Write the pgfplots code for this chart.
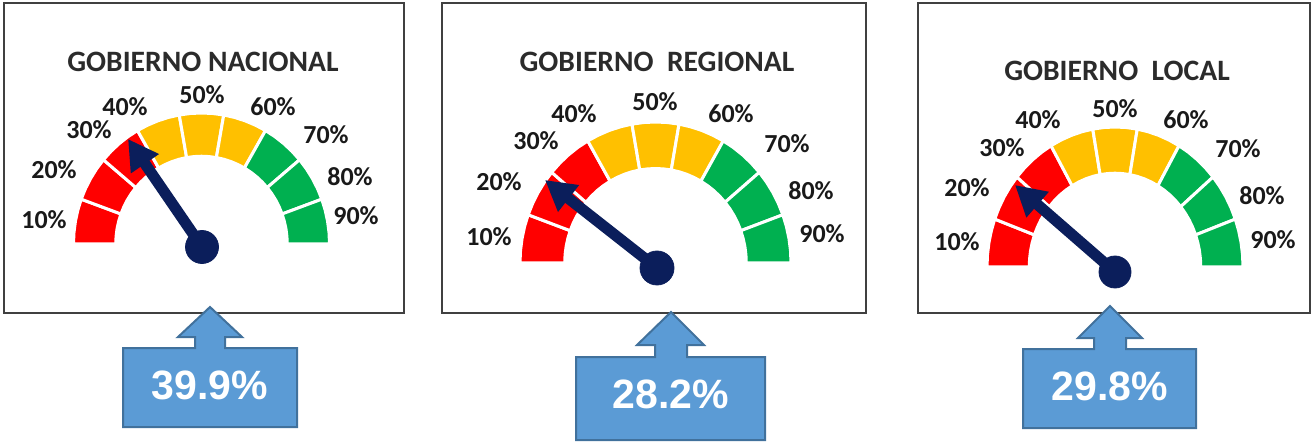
\documentclass[border=0pt]{standalone}
\usepackage{pgfplots}
\pgfplotsset{compat=1.18}
\usetikzlibrary{arrows.meta}
\usepackage{fontspec}
\setmainfont{Carlito}
\newfontfamily\arialf{Liberation Sans}
\definecolor{gred}{HTML}{FF0000}
\definecolor{gyel}{HTML}{FFC000}
\definecolor{ggrn}{HTML}{00B050}
\definecolor{navy}{HTML}{0B1E5B}
\definecolor{cfill}{HTML}{5B9BD5}
\definecolor{cedge}{HTML}{41719C}
\definecolor{ttl}{HTML}{2B2B2B}
\definecolor{frm}{HTML}{404040}
% one ring segment, angles in degrees (polar data)
\newcommand{\seg}[6]{\addplot[fill=#1, draw=white, line width=1.5pt, data cs=polar] coordinates {(#2,0.67)(#2,1)(#3,1)(#4,1)(#5,1)(#6,1)(#6,0.67)(#5,0.67)(#4,0.67)(#3,0.67)} -- cycle;}
\newcommand{\gaugering}{%
\seg{gred}{180}{175}{170}{165}{160}
\seg{gred}{160}{155}{150}{145}{140}
\seg{gred}{140}{135}{130}{125}{120}
\seg{gyel}{120}{115}{110}{105}{100}
\seg{gyel}{100}{95}{90}{85}{80}
\seg{gyel}{80}{75}{70}{65}{60}
\seg{ggrn}{60}{55}{50}{45}{40}
\seg{ggrn}{40}{35}{30}{25}{20}
\seg{ggrn}{20}{15}{10}{5}{0}
}
\pgfplotsset{
  pxaxis/.style={at={(0,0)}, anchor=north west, scale only axis, width=655.5pt, height=221pt,
    xmin=0, xmax=1311, ymin=0, ymax=442, y dir=reverse, hide axis, clip=false},
  gaxis/.style={anchor=origin, xmin=-1, xmax=1, ymin=0, ymax=1, hide axis, clip=false},
}
\tikzset{
  lbl/.style={font=\fontsize{13}{15}\selectfont\bfseries, text=black!90, inner sep=0pt},
  ttlnode/.style={font=\fontsize{14.8}{17}\selectfont\bfseries, text=ttl, inner sep=0pt},
  valnode/.style={font=\arialf\fontsize{20.5}{24}\selectfont\bfseries, text=white, inner sep=0pt},
}
\begin{document}
\begin{tikzpicture}
\path[use as bounding box] (0,0) rectangle (655.5pt,-221pt);
% ---------- frames, titles, labels, callouts ----------
\begin{axis}[pxaxis]
\addplot[draw=frm, line width=1pt] coordinates {(4,3)(404,3)(404,313)(4,313)} -- cycle;
\addplot[draw=frm, line width=1pt] coordinates {(442,3)(866,3)(866,313)(442,313)} -- cycle;
\addplot[draw=frm, line width=1pt] coordinates {(918,3)(1310,3)(1310,313)(918,313)} -- cycle;
% callouts
\addplot[fill=cfill, draw=cedge, line width=1pt] coordinates {(123,348)(195,348)(195,337)(178,337)(210,307)(242,337)(225,337)(225,348)(297,348)(297,427)(123,427)} -- cycle;
\addplot[fill=cfill, draw=cedge, line width=1pt] coordinates {(576,357)(655,357)(655,345)(637,345)(671,312)(704,345)(687,345)(687,357)(765,357)(765,440)(576,440)} -- cycle;
\addplot[fill=cfill, draw=cedge, line width=1pt] coordinates {(1023,349)(1094,349)(1094,338)(1078,338)(1110,306)(1142,338)(1126,338)(1126,349)(1196,349)(1196,428)(1023,428)} -- cycle;
\node[valnode] at (axis cs:210,385) {39.9\%};
\node[valnode] at (axis cs:671,394) {28.2\%};
\node[valnode] at (axis cs:1110,386) {29.8\%};
% titles
\node[ttlnode] at (axis cs:203,62) {GOBIERNO NACIONAL};
\node[ttlnode] at (axis cs:657,62) {GOBIERNO\ \ REGIONAL};
\node[ttlnode] at (axis cs:1117,71) {GOBIERNO\ \ LOCAL};
% gauge labels panel 1
\node[lbl] at (axis cs:44,220) {10\%};
\node[lbl] at (axis cs:54,170) {20\%};
\node[lbl] at (axis cs:89,130) {30\%};
\node[lbl] at (axis cs:125,107) {40\%};
\node[lbl] at (axis cs:202,95) {50\%};
\node[lbl] at (axis cs:273,107) {60\%};
\node[lbl] at (axis cs:326,135) {70\%};
\node[lbl] at (axis cs:350,177) {80\%};
\node[lbl] at (axis cs:356,216) {90\%};
% panel 2
\node[lbl] at (axis cs:489,237) {10\%};
\node[lbl] at (axis cs:499,182) {20\%};
\node[lbl] at (axis cs:536,141) {30\%};
\node[lbl] at (axis cs:574,114) {40\%};
\node[lbl] at (axis cs:655,102) {50\%};
\node[lbl] at (axis cs:731,114) {60\%};
\node[lbl] at (axis cs:787,144) {70\%};
\node[lbl] at (axis cs:811,191) {80\%};
\node[lbl] at (axis cs:822,234) {90\%};
% panel 3
\node[lbl] at (axis cs:957,242) {10\%};
\node[lbl] at (axis cs:967,188) {20\%};
\node[lbl] at (axis cs:1002,148) {30\%};
\node[lbl] at (axis cs:1038,120) {40\%};
\node[lbl] at (axis cs:1115,109) {50\%};
\node[lbl] at (axis cs:1186,120) {60\%};
\node[lbl] at (axis cs:1238,149) {70\%};
\node[lbl] at (axis cs:1262,196) {80\%};
\node[lbl] at (axis cs:1273,240) {90\%};
\end{axis}
% ---------- gauge rings ----------
\begin{axis}[gaxis, at={(100.75pt,-122pt)}, x=64pt, y=65.5pt]
\gaugering
\end{axis}
\begin{axis}[gaxis, at={(327.75pt,-131.5pt)}, x=67.75pt, y=70.5pt]
\gaugering
\end{axis}
\begin{axis}[gaxis, at={(557.5pt,-133.5pt)}, x=64pt, y=70pt]
\gaugering
\end{axis}
% ---------- needles ----------
\begin{axis}[pxaxis]
\addplot[navy, line width=5.5pt, no markers, -{Triangle[width=16pt,length=15pt]}] coordinates {(202,247)(128,139)};
\addplot[navy, line width=5.5pt, no markers, -{Triangle[width=16pt,length=15pt]}] coordinates {(657,268)(545,180)};
\addplot[navy, line width=5.5pt, no markers, -{Triangle[width=16pt,length=15pt]}] coordinates {(1115,272)(1015,185)};
\addplot[navy, only marks, mark=*, mark size=8.25pt] coordinates {(202,247)};
\addplot[navy, only marks, mark=*, mark size=8.5pt] coordinates {(657,268)};
\addplot[navy, only marks, mark=*, mark size=8pt] coordinates {(1115,272)};
\end{axis}
\end{tikzpicture}
\end{document}
